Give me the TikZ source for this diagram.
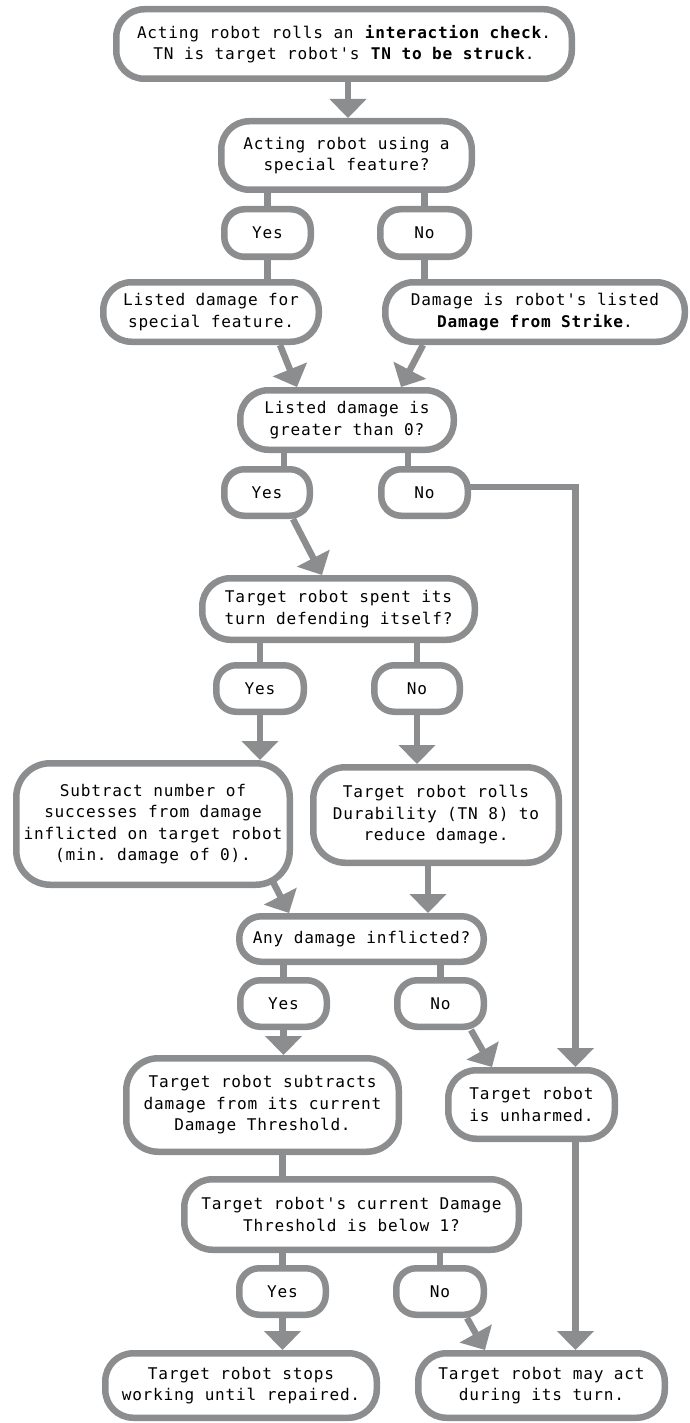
\documentclass[tikz,border=0pt]{standalone}
\usepackage{fontspec}
\setmonofont{DejaVu Sans Mono}[LetterSpace=4.8]
\usetikzlibrary{arrows.meta}
\pgfdeclarelayer{bg}
\pgfsetlayers{bg,main}
\definecolor{fc}{RGB}{140,141,143}
\tikzset{
  box/.style={draw=fc, line width=6.5pt, fill=white, rounded corners=28pt, align=center,
    inner sep=0pt, font=\ttfamily\fontsize{16.1}{21.5}\selectfont, text=black},
  yn/.style={box, rounded corners=20pt},
  ln/.style={draw=fc, line width=6.5pt},
  arr/.style={ln, -{Triangle[width=36pt,length=19pt]}},
}
\begin{document}
\begin{tikzpicture}[x=1pt,y=-1pt]
\useasboundingbox (0,0) rectangle (689,1423);
% nodes
\node[box, minimum width=455.5pt, minimum height=69.5pt] (top) at (344,44)
  {Acting robot rolls an \textbf{interaction check}.\\TN is target robot's \textbf{TN to be struck}.};
\node[box, minimum width=250.5pt, minimum height=68.5pt] (n2) at (346.5,155.5)
  {Acting robot using a\\special feature?};
\node[yn, minimum width=86.5pt, minimum height=47.5pt] (yes1) at (267.5,233) {Yes};
\node[yn, minimum width=88.5pt, minimum height=47.5pt] (no1) at (424.5,233) {No};
\node[box, minimum width=215.5pt, minimum height=59.5pt] (L) at (211,312)
  {Listed damage for\\special feature.};
\node[box, minimum width=299.5pt, minimum height=59.5pt] (D) at (535,312)
  {Damage is robot's listed\\\textbf{Damage from Strike}.};
\node[box, minimum width=213.5pt, minimum height=59.5pt] (gt0) at (347,420)
  {Listed damage is\\greater than 0?};
\node[yn, minimum width=85.5pt, minimum height=46.5pt] (yes2) at (267,492.5) {Yes};
\node[yn, minimum width=86.5pt, minimum height=46.5pt] (no2) at (424.5,492.5) {No};
\node[box, minimum width=272.5pt, minimum height=61.5pt] (spent) at (338.5,609)
  {Target robot spent its\\turn defending itself?};
\node[yn, minimum width=87.5pt, minimum height=46.5pt] (yes3) at (260,688.5) {Yes};
\node[yn, minimum width=85.5pt, minimum height=46.5pt] (no3) at (417,688.5) {No};
\node[box, rounded corners=34pt, minimum width=273.5pt, minimum height=121.5pt] (sub) at (153,824)
  {Subtract number of\\successes from damage\\inflicted on target robot\\(min. damage of 0).};
\node[box, rounded corners=32pt, minimum width=245.5pt, minimum height=95.5pt] (dur) at (436,815)
  {Target robot rolls\\Durability (TN 8) to\\reduce damage.};
\node[box, rounded corners=22pt, minimum width=244.5pt, minimum height=45.5pt] (any) at (361.5,939)
  {Any damage inflicted?};
\node[yn, minimum width=86.5pt, minimum height=46.5pt] (yes4) at (283.5,1003.5) {Yes};
\node[yn, minimum width=86.5pt, minimum height=46.5pt] (no4) at (440.5,1003.5) {No};
\node[box, rounded corners=32pt, minimum width=272.5pt, minimum height=93.5pt] (SD) at (262.5,1105)
  {Target robot subtracts\\damage from its current\\Damage Threshold.};
\node[box, minimum width=166.5pt, minimum height=68.5pt] (unh) at (531.5,1104.5)
  {Target robot\\is unharmed.};
\node[box, minimum width=334.5pt, minimum height=70.5pt] (thr) at (351.5,1214.5)
  {Target robot's current Damage\\Threshold is below 1?};
\node[yn, minimum width=86.5pt, minimum height=46.5pt] (yes5) at (282.5,1291.5) {Yes};
\node[yn, minimum width=87.5pt, minimum height=46.5pt] (no5) at (440,1291.5) {No};
\node[box, minimum width=271.5pt, minimum height=64.5pt] (stop) at (241,1385.5)
  {Target robot stops\\working until repaired.};
\node[box, minimum width=246.5pt, minimum height=64.5pt] (may) at (541.5,1385.5)
  {Target robot may act\\during its turn.};
% connectors
\begin{pgfonlayer}{bg}
\draw[arr] ([xshift=4pt]top.center) -- ([xshift=4pt]top.center |- n2.north);
\draw[ln] (yes1.center |- n2.center) -- (yes1.center |- L.center);
\draw[ln] (no1.center |- n2.center) -- (no1.center |- D.center);
\draw[arr] ([xshift=69pt]L.south) -- ([xshift=-50pt]gt0.north);
\draw[arr] ([xshift=-112pt]D.south) -- ([xshift=54pt]gt0.north);
\draw[ln] ([xshift=-63pt]gt0.center) -- ([xshift=-63pt]gt0.center |- yes2.center);
\draw[ln] ([xshift=61pt]gt0.center) -- ([xshift=61pt]gt0.center |- no2.center);
\draw[arr] ([xshift=26pt]yes2.south) -- ([xshift=-16.5pt]spent.north);
\draw[arr] ([yshift=5.5pt]no2.center) -| ([xshift=44pt]unh.north);
\draw[ln] (yes3.center |- spent.center) -- (yes3.center);
\draw[ln] (no3.center |- spent.center) -- (no3.center);
\draw[arr] (yes3.center) -- (yes3.center |- sub.north);
\draw[arr] (no3.center) -- (no3.center |- dur.north);
\draw[arr] ([xshift=119pt,yshift=8pt]sub.south) -- ([xshift=-72.5pt]any.north);
\draw[arr] ([xshift=-8pt]dur.center) -- ([xshift=-8pt]dur.center |- any.north);
\draw[ln] (yes4.center |- any.center) -- (yes4.center);
\draw[ln] (no4.center |- any.center) -- (no4.center);
\draw[arr] (yes4.center) -- (yes4.center |- SD.north);
\draw[arr] ([xshift=30.5pt]no4.south) -- ([xshift=-39.5pt]unh.north);
\draw[ln] (yes5.center |- SD.center) -- (yes5.center);
\draw[ln] (no5.center |- thr.center) -- (no5.center);
\draw[arr] (yes5.center) -- (yes5.center |- stop.north);
\draw[arr] ([xshift=27pt]no5.south) -- ([xshift=-56.5pt]may.north);
\draw[arr] ([xshift=44pt]unh.center) -- ([xshift=44pt]unh.center |- may.north);
\end{pgfonlayer}
\end{tikzpicture}
\end{document}
